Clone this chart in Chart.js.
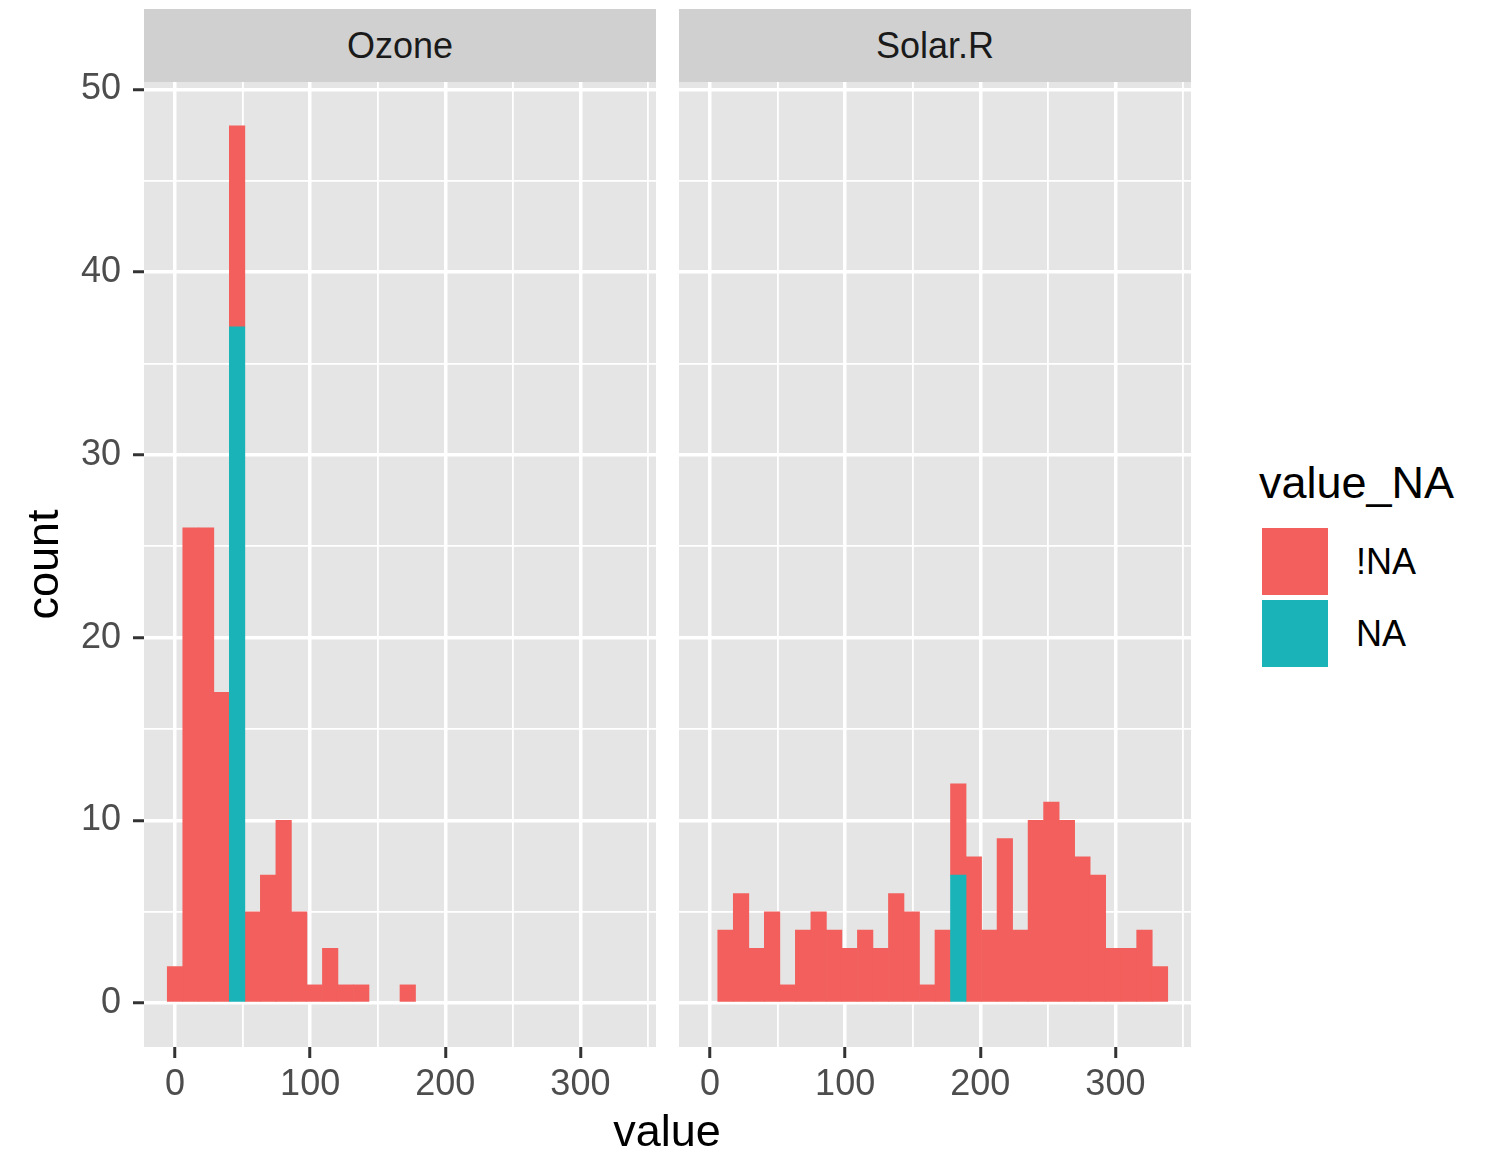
<!DOCTYPE html>
<html>
<head>
<meta charset="utf-8">
<script src="https://cdn.jsdelivr.net/npm/chart.js@4/dist/chart.umd.min.js"></script>
<style>
  body { margin: 0; background: #fff; font-family: 'Liberation Sans', Arial, sans-serif; }
  #wrap { position: relative; width: 1495px; height: 1153px; overflow: hidden; }
  canvas { position: absolute; top: 0; }
  .strip { position: absolute; top: 9px; height: 73px; background: #D0D0D0; color: #1A1A1A;
           font-size: 36px; display: flex; align-items: center; justify-content: center; }
  .xtitle { position: absolute; left: 567px; width: 200px; top: 1108px; text-align: center;
            font-size: 45px; line-height: 45px; color: #000; }
  .legtitle { position: absolute; left: 1259px; top: 460px; font-size: 45px; line-height: 45px; color: #000; }
  .key { position: absolute; left: 1262px; width: 66px; height: 67px; }
  .klabel { position: absolute; left: 1356px; height: 67px; font-size: 36px; color: #000;
            display: flex; align-items: center; }
</style>
</head>
<body>
<div id="wrap">
  <canvas id="ozone" width="700" height="1153" style="left:0px"></canvas>
  <canvas id="solar" width="560" height="1153" style="left:640px"></canvas>
  <div class="strip" style="left:144px; width:512px">Ozone</div>
  <div class="strip" style="left:679px; width:512px">Solar.R</div>
  <div class="xtitle">value</div>
  <div class="legtitle">value_NA</div>
  <div class="key" style="top:528px; background:#F25F5C"></div>
  <div class="key" style="top:600px; background:#19B3B8"></div>
  <div class="klabel" style="top:528px">!NA</div>
  <div class="klabel" style="top:600px">NA</div>
</div>
<script>
// histogram bin midpoints (30 bins)
const bins = [0, 11.48, 22.97, 34.45, 45.93, 57.42, 68.9, 80.38, 91.86, 103.35,
  114.83, 126.31, 137.8, 149.28, 160.76, 172.24, 183.73, 195.21, 206.69, 218.18,
  229.66, 241.14, 252.63, 264.11, 275.59, 287.07, 298.56, 310.04, 321.52, 333.01];

const ozoneNotNA = [2, 26, 26, 17, 11, 5, 7, 10, 5, 1, 3, 1, 1, 0, 0, 1, 0, 0, 0, 0, 0, 0, 0, 0, 0, 0, 0, 0, 0, 0];
const ozoneNA    = [0, 0, 0, 0, 37, 0, 0, 0, 0, 0, 0, 0, 0, 0, 0, 0, 0, 0, 0, 0, 0, 0, 0, 0, 0, 0, 0, 0, 0, 0];
const solarNotNA = [0, 4, 6, 3, 5, 1, 4, 5, 4, 3, 4, 3, 6, 5, 1, 4, 5, 8, 4, 9, 4, 10, 11, 10, 8, 7, 3, 3, 4, 2];
const solarNA    = [0, 0, 0, 0, 0, 0, 0, 0, 0, 0, 0, 0, 0, 0, 0, 0, 7, 0, 0, 0, 0, 0, 0, 0, 0, 0, 0, 0, 0, 0];

const xMajor = [0, 100, 200, 300];
const xMinor = [50, 150, 250, 350];
const yMajor = [0, 10, 20, 30, 40, 50];
const yMinor = [5, 15, 25, 35, 45];

const RED = '#F25F5C';
const TEAL = '#19B3B8';
const FONT = "'Liberation Sans', Arial, sans-serif";

const panelBg = {
  id: 'panelBg',
  beforeDraw(chart) {
    const a = chart.chartArea;
    const ctx = chart.ctx;
    ctx.save();
    ctx.fillStyle = '#E5E5E5';
    ctx.fillRect(a.left, a.top, a.right - a.left, a.bottom - a.top);
    ctx.restore();
  }
};

function toPoints(values) {
  return bins.map((b, i) => ({ x: b, y: values[i] === 0 ? null : values[i] }));
}

const isIn = (list, c) => !!c.tick && list.includes(c.tick.value);

function makeChart(id, notNA, naVals, showY, yWidth, padRight) {
  const allX = xMajor.concat(xMinor).sort((a, b) => a - b);
  const allY = yMajor.concat(yMinor).sort((a, b) => a - b);
  return new Chart(document.getElementById(id), {
    type: 'bar',
    data: {
      datasets: [
        { label: 'NA', data: toPoints(naVals), backgroundColor: TEAL, borderWidth: 0,
          barPercentage: 1, categoryPercentage: 1 },
        { label: '!NA', data: toPoints(notNA), backgroundColor: RED, borderWidth: 0,
          barPercentage: 1, categoryPercentage: 1 }
      ]
    },
    options: {
      responsive: false,
      devicePixelRatio: 1,
      animation: false,
      layout: { padding: { left: 0, top: 82, right: padRight, bottom: 46 } },
      plugins: { legend: { display: false }, tooltip: { enabled: false } },
      scales: {
        x: {
          type: 'linear',
          stacked: true,
          offset: false,
          min: -22.96,
          max: 355.96,
          afterBuildTicks: s => { s.ticks = allX.map(v => ({ value: v })); },
          afterFit: s => { s.height = 60; },
          border: { display: false },
          grid: {
            offset: false,
            color: '#FFFFFF',
            lineWidth: c => isIn(xMajor, c) ? 3.5 : 1.8,
            tickColor: c => isIn(xMajor, c) ? '#333333' : 'rgba(0,0,0,0)',
            tickWidth: 3,
            tickLength: 11
          },
          ticks: {
            autoSkip: false,
            maxRotation: 0,
            padding: 5,
            color: '#4D4D4D',
            font: { family: FONT, size: 36 },
            callback: v => xMajor.includes(v) ? String(v) : ''
          }
        },
        y: {
          stacked: true,
          min: -2.4,
          max: 50.4,
          afterBuildTicks: s => { s.ticks = allY.map(v => ({ value: v })); },
          afterFit: s => { s.width = yWidth; },
          border: { display: false },
          grid: {
            color: '#FFFFFF',
            lineWidth: c => isIn(yMajor, c) ? 3.5 : 1.8,
            tickColor: c => isIn(yMajor, c) ? '#333333' : 'rgba(0,0,0,0)',
            tickWidth: 3,
            tickLength: 11,
            drawTicks: showY
          },
          ticks: {
            display: showY,
            padding: 12,
            color: '#4D4D4D',
            font: { family: FONT, size: 36 },
            callback: v => yMajor.includes(v) ? String(v) : ''
          },
          title: {
            display: showY,
            text: 'count',
            color: '#000000',
            font: { family: FONT, size: 45 },
            padding: { top: 19, bottom: 0 }
          }
        }
      }
    },
    plugins: [panelBg]
  });
}

makeChart('ozone', ozoneNotNA, ozoneNA, true, 144, 44);
makeChart('solar', solarNotNA, solarNA, false, 39, 9);
</script>
</body>
</html>
